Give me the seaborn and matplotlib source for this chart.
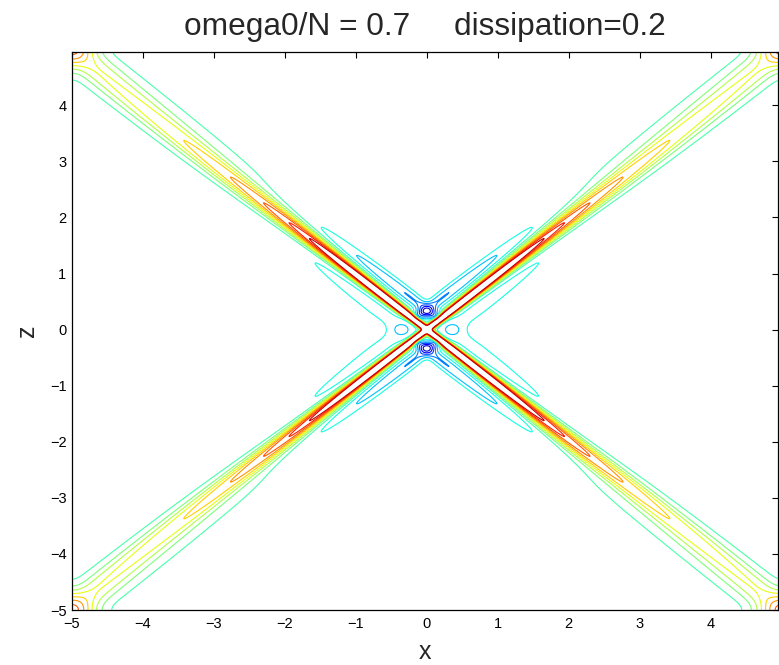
import numpy as np
import matplotlib
matplotlib.use("Agg")
import matplotlib.pyplot as plt
import seaborn as sns

# ---- chart parameters / values ----
omega_ratio = 0.7            # omega0 / N
dissipation = 0.2
title_text = "omega0/N = 0.7     dissipation=0.2"
x_label = "x"
z_label = "z"
x_ticks = [-5, -4, -3, -2, -1, 0, 1, 2, 3, 4]
z_ticks = [-5, -4, -3, -2, -1, 0, 1, 2, 3, 4]
contour_levels = [k / 16 for k in range(1, 16)]
domain_min = -5.0
domain_max = 4.95
grid_step = 0.01
period = 10.0
background_level = 0.405
beam_peak = 0.84           # beam amplitude at the source
beam_decay = 0.275         # along-beam decay rate
beam_boost = [0.6, 1.0]    # extra amplitude near the source, decay length
beam_width = [0.04, 0.03, 40.0]  # w0, growth, saturation distance
# negative side troughs: depth, offset, width, length
trough_vertical = [0.19, 0.25, 0.10, 2.25]
trough_horizontal = [0.07, 0.22, 0.18, 2.9]
trough_shape = 2.45
# local dips near the crossing: x, z, depth, radius x, radius z
dip_x = [0.0, 0.0, -0.38, 0.38]
dip_z = [0.30, -0.30, 0.0, 0.0]
dip_depth = [0.08, 0.08, 0.04, 0.04]
dip_rx = [0.12, 0.12, 0.08, 0.08]
dip_rz = [0.08, 0.08, 0.08, 0.08]

# ---- build the field ----
x = np.arange(domain_min, domain_max + 1e-9, grid_step)
z = np.arange(domain_min, domain_max + 1e-9, grid_step)
X, Z = np.meshgrid(x, z)

alpha = np.arctan(omega_ratio / np.sqrt(1 - omega_ratio ** 2))
ca, sa = np.cos(alpha), np.sin(alpha)
F = np.full_like(X, background_level)

shifts = [-period, 0.0, period]
for sx in shifts:
    for sz in shifts:
        xs, zs = X - sx, Z - sz
        for sgn in (1.0, -1.0):
            a = np.abs(xs * ca + sgn * zs * sa)
            p = -sgn * xs * sa + zs * ca
            w = beam_width[0] + beam_width[1] * a / (1 + a / beam_width[2])
            amp = beam_peak * np.exp(-beam_decay * a) + beam_boost[0] * np.exp(-a / beam_boost[1])
            F += amp * np.exp(-(p / w) ** 2)

# troughs beside the beams near the crossing
vert_w = 0.5 * (1 + np.tanh((np.abs(Z) * ca - np.abs(X) * sa) / 0.03))
for sgn in (1.0, -1.0):
    a = np.abs(X * ca + sgn * Z * sa)
    p = np.abs(-sgn * X * sa + Z * ca)
    D, d, s, L = trough_vertical
    tv = D * np.exp(-(a / L) ** trough_shape) * np.exp(-((p - d) / s) ** 2)
    D, d, s, L = trough_horizontal
    th = D * np.exp(-(a / L) ** trough_shape) * np.exp(-((p - d) / s) ** 2)
    F -= vert_w * tv + (1 - vert_w) * th

for dx, dz, dd, rx, rz in zip(dip_x, dip_z, dip_depth, dip_rx, dip_rz):
    F -= dd * np.exp(-((X - dx) / rx) ** 2 - ((Z - dz) / rz) ** 2)

# ---- plot ----
sns.set_theme(style="white")
plt.rcParams['font.family'] = ['Liberation Sans', 'DejaVu Sans']
plt.rcParams['axes.unicode_minus'] = True

fig = plt.figure(figsize=(7.79, 6.65), dpi=100)
ax = fig.add_axes([72 / 779, 55 / 665, 706 / 779, 558 / 665])
colors = plt.get_cmap("jet")(np.array(contour_levels))
ax.contour(X, Z, F, levels=contour_levels, colors=colors, linewidths=0.8)

ax.set_xlim(domain_min, domain_max)
ax.set_ylim(domain_min, domain_max)
ax.set_xticks(x_ticks)
ax.set_yticks(z_ticks)
ax.tick_params(direction='in', top=True, right=True, length=4.5, width=0.8,
               labelsize=10.5, colors='black')
ax.tick_params(axis='x', pad=5)
ax.tick_params(axis='y', pad=4)
for sp in ax.spines.values():
    sp.set_color('black')
    sp.set_linewidth(0.9)
ax.set_facecolor('white')
ax.set_title(title_text, fontsize=22.8, pad=12)
ax.set_xlabel(x_label, fontsize=18, labelpad=6.5)
ax.set_ylabel(z_label, fontsize=18, labelpad=8)

fig.savefig("out.png", dpi=100, facecolor='white')
